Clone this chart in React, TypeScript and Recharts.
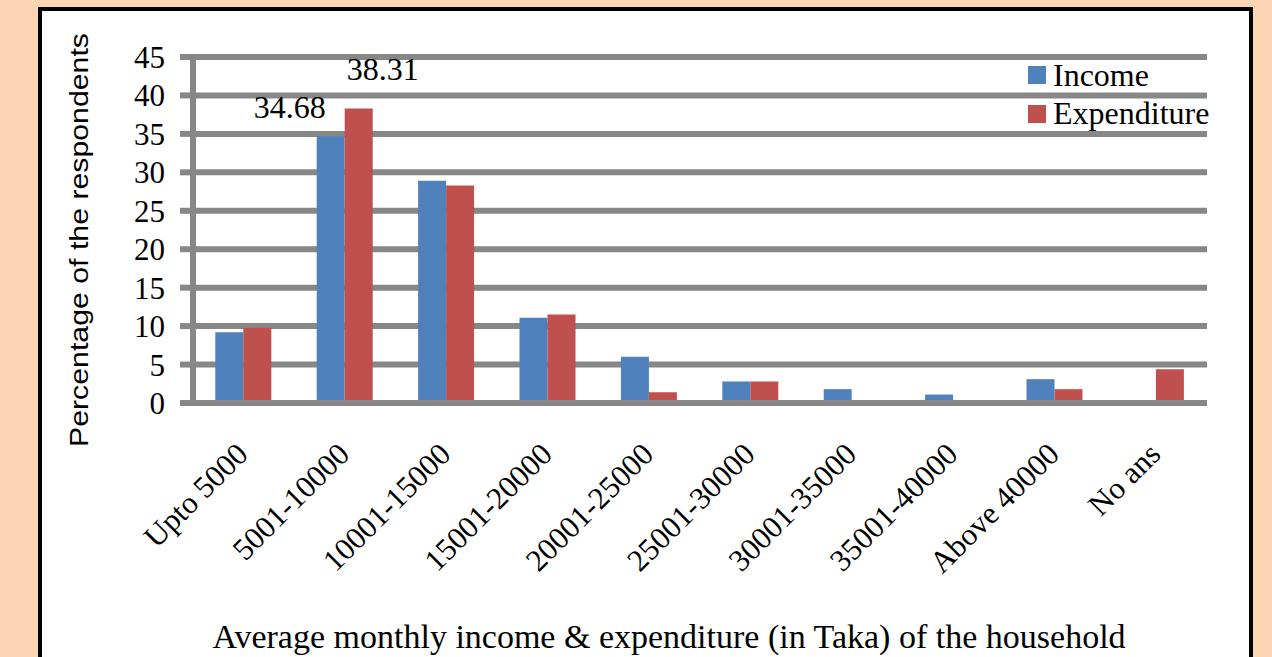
import { BarChart, Bar, XAxis, YAxis, CartesianGrid, Legend, LabelList } from "recharts";

const categories = [
  "Upto 5000", "5001-10000", "10001-15000", "15001-20000", "20001-25000",
  "25001-30000", "30001-35000", "35001-40000", "Above 40000", "No ans",
];
const income = [9.2, 34.68, 28.9, 11.1, 6.0, 2.8, 1.8, 1.1, 3.1, 0];
const expenditure = [9.8, 38.31, 28.3, 11.5, 1.4, 2.8, 0, 0, 1.8, 4.4];
// only the tallest pair carries a data label in the original
const incomeLabels = ["", "34.68", "", "", "", "", "", "", "", ""];
const expenditureLabels = ["", "38.31", "", "", "", "", "", "", "", ""];
const yTicks = [0, 5, 10, 15, 20, 25, 30, 35, 40, 45];

const SERIF = '"Liberation Serif", "Times New Roman", serif';
const SANS = '"Liberation Sans", Arial, sans-serif';
const GRID = "#878787";
const BLUE = "#4f81bd";
const RED = "#c0504d";

const data = categories.map((name, i) => ({
  name,
  income: income[i],
  expenditure: expenditure[i],
  incomeLabel: incomeLabels[i],
  expenditureLabel: expenditureLabels[i],
}));

const peakLabel = (dx: number, dy: number) => (props: any) => {
  const { x, y, width, value } = props;
  if (!value) return null;
  return (
    <text x={Number(x) + Number(width) / 2 + dx} y={Number(y) - dy} textAnchor="middle"
      fontSize={32} fontFamily={SERIF} fill="#000">
      {value}
    </text>
  );
};

const CategoryTick = ({ x, y, payload }: any) => (
  <text x={x + 6} y={y + 45} textAnchor="end" transform={`rotate(-45, ${x + 6}, ${y + 45})`}
    fontSize={31} fontFamily={SERIF} fill="#000">
    {payload.value}
  </text>
);

const LegendBox = () => (
  <div style={{ fontFamily: SERIF, fontSize: 32, color: "#000" }}>
    {[{ name: "Income", color: BLUE }, { name: "Expenditure", color: RED }].map((s) => (
      <div key={s.name} style={{ display: "flex", alignItems: "center", height: 38.5, whiteSpace: "nowrap" }}>
        <span style={{ display: "inline-block", width: 18, height: 18, background: s.color, marginRight: 7 }} />
        {s.name}
      </div>
    ))}
  </div>
);

export default function App() {
  return (
    <div style={{ position: "fixed", left: 0, top: 0, width: 1272, height: 657, background: "#fcd5b4", overflow: "hidden" }}>
      <div style={{ position: "absolute", left: 38, top: 7, width: 1207, height: 700, background: "#fff", border: "4px solid #000" }} />
      <div style={{ position: "absolute", left: 0, top: 0 }}>
        <BarChart width={1272} height={657} data={data} barCategoryGap="22%" barGap={0}
          margin={{ top: 57, right: 65, left: 133, bottom: 224 }}>
          <CartesianGrid vertical={false} stroke={GRID} strokeWidth={6} />
          <XAxis dataKey="name" height={30} interval={0} tick={<CategoryTick />} tickLine={false}
            axisLine={{ stroke: GRID, strokeWidth: 6 }}
            label={{
              content: () => (
                <text x={669} y={648} textAnchor="middle" fontSize={34} fontFamily={SERIF} fill="#000">
                  Average monthly income &amp; expenditure (in Taka) of the household
                </text>
              ),
            }} />
          <YAxis width={60} domain={[0, 45]} ticks={yTicks} interval={0} tickSize={13} tickMargin={15}
            tick={{ fontSize: 31, fontFamily: SERIF, fill: "#000" }}
            tickLine={{ stroke: GRID, strokeWidth: 6 }}
            axisLine={{ stroke: GRID, strokeWidth: 6, strokeLinecap: "square" }}
            label={{
              content: () => (
                <text x={88} y={240} textAnchor="middle" transform="rotate(-90, 88, 240)"
                  fontSize={25} fontFamily={SANS} fill="#000" textLength={414} lengthAdjust="spacingAndGlyphs">
                  Percentage of the respondents
                </text>
              ),
            }} />
          <Legend content={<LegendBox />} layout="vertical" align="center" verticalAlign="middle"
            wrapperStyle={{ left: 1028, top: 56, width: 220 }} />
          <Bar dataKey="income" name="Income" fill={BLUE} isAnimationActive={false}>
            <LabelList dataKey="incomeLabel" content={peakLabel(-41, 18)} />
          </Bar>
          <Bar dataKey="expenditure" name="Expenditure" fill={RED} isAnimationActive={false}>
            <LabelList dataKey="expenditureLabel" content={peakLabel(24, 28)} />
          </Bar>
        </BarChart>
      </div>
    </div>
  );
}
